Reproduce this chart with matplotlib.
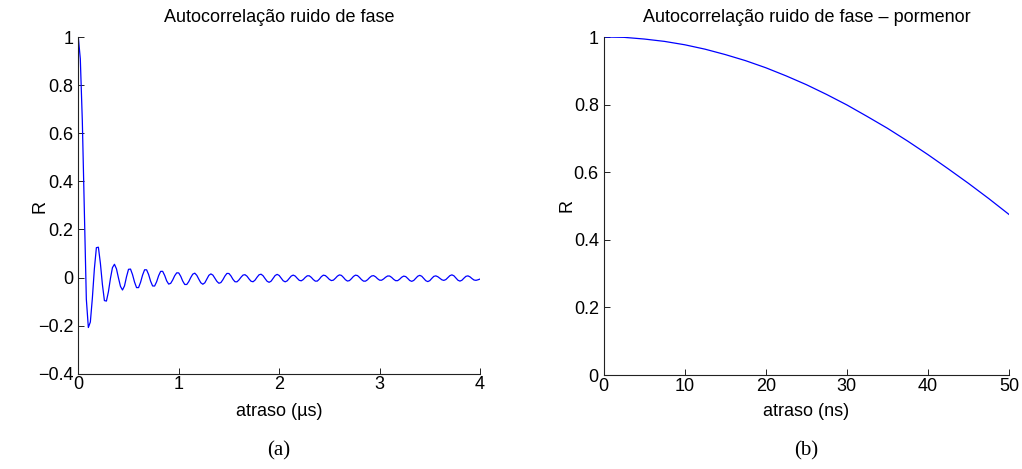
import numpy as np
import matplotlib
matplotlib.use("Agg")
import matplotlib.pyplot as plt

# ---- data -------------------------------------------------------------
# (a) autocorrelation of the phase noise, sampled every 20 ns over 0..4 us
step_us = 0.02
r_full = [
    1.000, 0.909, 0.652, 0.280, -0.090, -0.208, -0.185, -0.086, 0.036, 0.124,
    0.126, 0.059, -0.029, -0.096, -0.098, -0.059, -0.004, 0.041, 0.055, 0.036,
    -0.002, -0.037, -0.052, -0.035, 0.003, 0.034, 0.035, 0.012, -0.019, -0.042,
    -0.042, -0.020, 0.010, 0.032, 0.032, 0.0125, -0.0155, -0.0352, -0.0355, -0.0176,
    0.0076, 0.0255, 0.0256, 0.0087, -0.014, -0.0274, -0.0243, -0.0102, 0.0074, 0.0194,
    0.019, 0.005, -0.015, -0.029, -0.029, -0.017, 0.000, 0.014, 0.018, 0.009,
    -0.007, -0.022, -0.028, -0.022, -0.0065, 0.009, 0.015, 0.010, -0.003, -0.016,
    -0.024, -0.021, -0.009, 0.006, 0.017, 0.0166, 0.0066, -0.0076, -0.0176, -0.018,
    -0.010, 0.001, 0.010, 0.0117, 0.0053, -0.0059, -0.0155, -0.0177, -0.0109, 0.0011,
    0.0113, 0.0137, 0.0072, -0.0046, -0.0156, -0.020, -0.0152, -0.0035, 0.0082, 0.013,
    0.0085, -0.0025, -0.0135, -0.018, -0.0139, -0.004, 0.0059, 0.010, 0.006, -0.0033,
    -0.0117, -0.0138, -0.0085, 0.0004, 0.0071, 0.0071, 0.0006, -0.0086, -0.0151, -0.0149,
    -0.007, 0.0035, 0.0097, 0.008, 0.0007, -0.0079, -0.0128, -0.011, -0.0033, 0.0057,
    0.0108, 0.0088, 0.0005, -0.0092, -0.0148, -0.0129, -0.0049, 0.0045, 0.0098, 0.0081,
    0.0005, -0.0088, -0.0151, -0.0152, -0.0094, -0.0007, 0.0062, 0.0078, 0.003, -0.0051,
    -0.0111, -0.0113, -0.0061, 0.0011, 0.0063, 0.0062, 0.0005, -0.0075, -0.0132, -0.0131,
    -0.0071, 0.001, 0.0058, 0.0039, -0.0038, -0.0124, -0.016, -0.0123, -0.0035, 0.0053,
    0.009, 0.0052, -0.004, -0.0132, -0.017, -0.013, -0.0037, 0.0047, 0.0068, 0.0032,
    -0.0034, -0.0095, -0.012, -0.0086, -0.0005, 0.0076, 0.011, 0.0072, -0.002, -0.0112,
    -0.015, -0.0114, -0.0028, 0.0049, 0.0068, 0.0028, -0.0044, -0.0104, -0.0118, -0.0095,
    -0.0065,
]
delay_us = np.arange(len(r_full)) * step_us

# (b) detail of the first 50 ns
delay_ns = [0, 2.5, 5, 7.5, 10, 12.5, 15, 17.5, 20, 22.5, 25,
            27.5, 30, 32.5, 35, 37.5, 40, 42.5, 45, 47.5, 50]
r_detail = [1.000, 0.999, 0.994, 0.987, 0.977, 0.964, 0.948, 0.930, 0.909, 0.885, 0.859,
            0.830, 0.799, 0.765, 0.730, 0.692, 0.652, 0.610, 0.567, 0.522, 0.475]

# ticks / labels
xticks_a = [0, 1, 2, 3, 4]
yticks_a = [-0.4, -0.2, 0, 0.2, 0.4, 0.6, 0.8, 1]
yticklabels_a = ["\u22120.4", "\u22120.2", "0", "0.2", "0.4", "0.6", "0.8", "1"]
xticks_b = [0, 10, 20, 30, 40, 50]
yticks_b = [0, 0.2, 0.4, 0.6, 0.8, 1]
yticklabels_b = ["0", "0.2", "0.4", "0.6", "0.8", "1"]

title_a = "Autocorrelação ruido de fase"
title_b = "Autocorrelação ruido de fase \u2013 pormenor"
xlabel_a = "atraso (\u00b5s)"
xlabel_b = "atraso (ns)"
ylabel = "R"
captions = ["(a)", "(b)"]

# ---- figure -------------------------------------------------------------
plt.rcParams["font.family"] = ["Liberation Sans", "DejaVu Sans"]
W, H = 1022, 469
fig = plt.figure(figsize=(W / 100, H / 100), dpi=100)

box_a = (78.3, 37.0, 480.0, 373.7)     # left, top, right, bottom in px
box_b = (603.7, 37.0, 1009.0, 375.0)
ax_a = fig.add_axes([box_a[0] / W, 1 - box_a[3] / H,
                     (box_a[2] - box_a[0]) / W, (box_a[3] - box_a[1]) / H])
ax_b = fig.add_axes([box_b[0] / W, 1 - box_b[3] / H,
                     (box_b[2] - box_b[0]) / W, (box_b[3] - box_b[1]) / H])

ax_a.plot(delay_us, r_full, color=(0, 0, 1), lw=0.9)
ax_b.plot(delay_ns, r_detail, color=(0, 0, 1), lw=0.9)

setup = [
    (ax_a, box_a, (0, 4), (-0.4, 1), xticks_a, yticks_a, yticklabels_a, title_a, xlabel_a, 40),
    (ax_b, box_b, (0, 50), (0, 1), xticks_b, yticks_b, yticklabels_b, title_b, xlabel_b, 567),
]
fs = 13
for ax, box, xl, yl, xt, yt, ytl, ttl, xlab, ylab_x in setup:
    w_px = box[2] - box[0]
    h_px = box[3] - box[1]
    ax.set_xlim(*xl)
    ax.set_ylim(*yl)
    ax.set_xticks(xt)
    ax.set_xticklabels([str(v) for v in xt])
    ax.set_yticks(yt)
    ax.set_yticklabels(ytl)
    for s in ("top", "right"):
        ax.spines[s].set_visible(False)
    for s in ("left", "bottom"):
        ax.spines[s].set_linewidth(0.8)
        ax.spines[s].set_color("#222222")
    ax.tick_params(direction="in", length=4, width=0.7, color="#222222",
                   labelsize=fs, labelcolor="black")
    ax.tick_params(axis="x", pad=2)
    ax.tick_params(axis="y", pad=3.5)
    ax.set_title(ttl, fontsize=fs, pad=0, y=1 + (box[1] - 17) / h_px, va="center")
    ax.set_xlabel(xlab, fontsize=fs)
    ax.xaxis.set_label_coords(0.5, -(411 - box[3]) / h_px)
    ax.xaxis.label.set_va("center")
    ax.set_ylabel(ylabel, fontsize=fs)
    ax.yaxis.set_label_coords((ylab_x - box[0]) / w_px, (box[3] - 206) / h_px)
    ax.yaxis.label.set_va("center")

for cx, cap in zip((279, 806), captions):
    fig.text(cx / W, 1 - 451 / H, cap, ha="center", va="center",
             fontsize=15, family=["Liberation Serif", "DejaVu Serif"])

fig.savefig("out.png", dpi=100)
